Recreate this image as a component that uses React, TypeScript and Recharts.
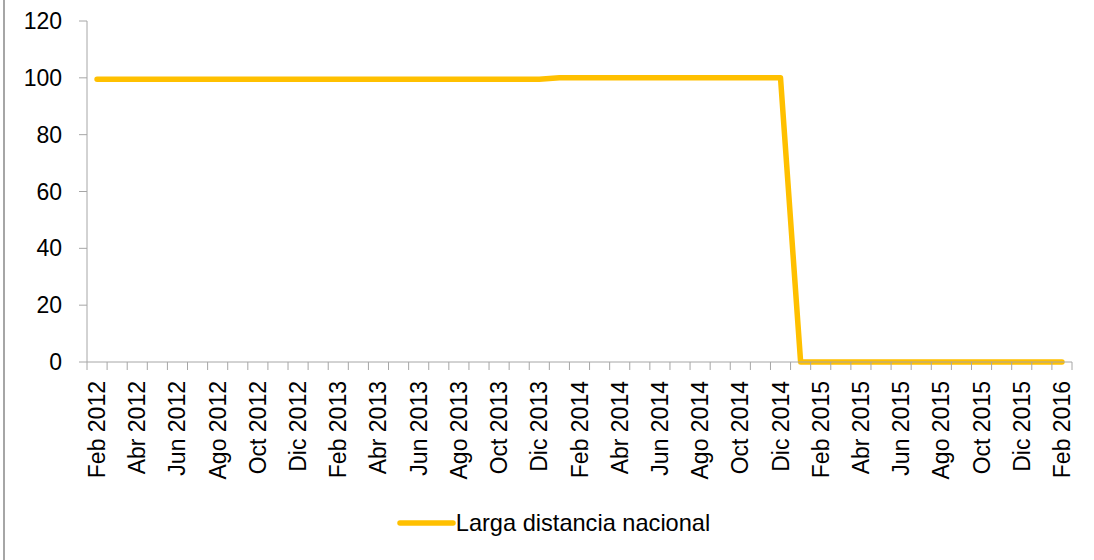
import React from "react";
import { LineChart, Line, XAxis, YAxis, Legend } from "recharts";

const months: string[] = [
  "Feb 2012", "Mar 2012", "Abr 2012", "May 2012", "Jun 2012", "Jul 2012", "Ago 2012", "Sep 2012", "Oct 2012", "Nov 2012", "Dic 2012",
  "Ene 2013", "Feb 2013", "Mar 2013", "Abr 2013", "May 2013", "Jun 2013", "Jul 2013", "Ago 2013", "Sep 2013", "Oct 2013", "Nov 2013", "Dic 2013",
  "Ene 2014", "Feb 2014", "Mar 2014", "Abr 2014", "May 2014", "Jun 2014", "Jul 2014", "Ago 2014", "Sep 2014", "Oct 2014", "Nov 2014", "Dic 2014",
  "Ene 2015", "Feb 2015", "Mar 2015", "Abr 2015", "May 2015", "Jun 2015", "Jul 2015", "Ago 2015", "Sep 2015", "Oct 2015", "Nov 2015", "Dic 2015",
  "Ene 2016", "Feb 2016",
];

const largaDistancia: number[] = [
  99.5, 99.5, 99.5, 99.5, 99.5, 99.5, 99.5, 99.5, 99.5, 99.5, 99.5,
  99.5, 99.5, 99.5, 99.5, 99.5, 99.5, 99.5, 99.5, 99.5, 99.5, 99.5, 99.5,
  100, 100, 100, 100, 100, 100, 100, 100, 100, 100, 100, 100,
  0, 0, 0, 0, 0, 0, 0, 0, 0, 0, 0, 0,
  0, 0,
];

const yTicks: number[] = [0, 20, 40, 60, 80, 100, 120];
const seriesName = "Larga distancia nacional";

const data = months.map((m, i) => ({ i, month: m, value: largaDistancia[i] }));

const xTickValues: number[] = [];
for (let k = 0; k <= months.length; k++) xTickValues.push(k - 0.5);
for (let k = 0; k < months.length; k += 2) xTickValues.push(k);
xTickValues.sort((a, b) => a - b);

const FONT = "'Liberation Sans', Arial, sans-serif";
const AXIS = "#A6A6A6";
const COLOR = "#FFC000";

const XTick = (props: any) => {
  const { x, y, payload } = props;
  const v = payload.value as number;
  if (Math.abs(v - Math.round(v)) > 0.25) {
    return <line x1={x} x2={x} y1={y} y2={y + 8} stroke={AXIS} strokeWidth={1} />;
  }
  if (v % 2 === 0) {
    const ty = y + 19;
    return (
      <text
        x={x}
        y={ty}
        transform={`rotate(-90, ${x}, ${ty})`}
        textAnchor="end"
        dominantBaseline="central"
        fontFamily={FONT}
        fontSize={23}
        fill="#000"
      >
        {months[v]}
      </text>
    );
  }
  return null;
};

const LegendContent = () => (
  <div
    style={{
      height: 66,
      display: "flex",
      alignItems: "center",
      justifyContent: "center",
      paddingLeft: 35,
      boxSizing: "border-box",
      fontFamily: FONT,
      fontSize: 23.6,
      color: "#000",
    }}
  >
    <svg width={59} height={10} style={{ marginRight: 0 }}>
      <line x1={3} x2={56} y1={5} y2={5} stroke={COLOR} strokeWidth={5.5} strokeLinecap="round" />
    </svg>
    <span>{seriesName}</span>
  </div>
);

export default function App() {
  return (
    <div style={{ position: "absolute", left: 0, top: 0, width: 1094, height: 560, background: "#fff" }}>
      <div style={{ position: "absolute", left: 3, top: 0, width: 2, height: 560, background: AXIS }} />
      <LineChart width={1094} height={560} data={data} margin={{ top: 21, right: 22, left: 0, bottom: 4 }}>
        <XAxis
          dataKey="i"
          type="number"
          domain={[-0.5, months.length - 0.5]}
          ticks={xTickValues}
          interval={0}
          tick={<XTick />}
          tickLine={false}
          tickSize={0}
          tickMargin={0}
          height={128}
          axisLine={{ stroke: AXIS, strokeWidth: 1 }}
          allowDataOverflow
        />
        <YAxis
          domain={[0, 120]}
          ticks={yTicks}
          interval={0}
          width={87}
          tickSize={8}
          tickMargin={17}
          tickLine={{ stroke: AXIS }}
          axisLine={{ stroke: AXIS, strokeWidth: 1 }}
          tick={{ fontSize: 23, fill: "#000", fontFamily: FONT }}
        />
        <Legend verticalAlign="bottom" content={<LegendContent />} />
        <Line
          dataKey="value"
          name={seriesName}
          type="linear"
          stroke={COLOR}
          strokeWidth={5.5}
          strokeLinecap="round"
          strokeLinejoin="round"
          dot={false}
          isAnimationActive={false}
        />
      </LineChart>
    </div>
  );
}
